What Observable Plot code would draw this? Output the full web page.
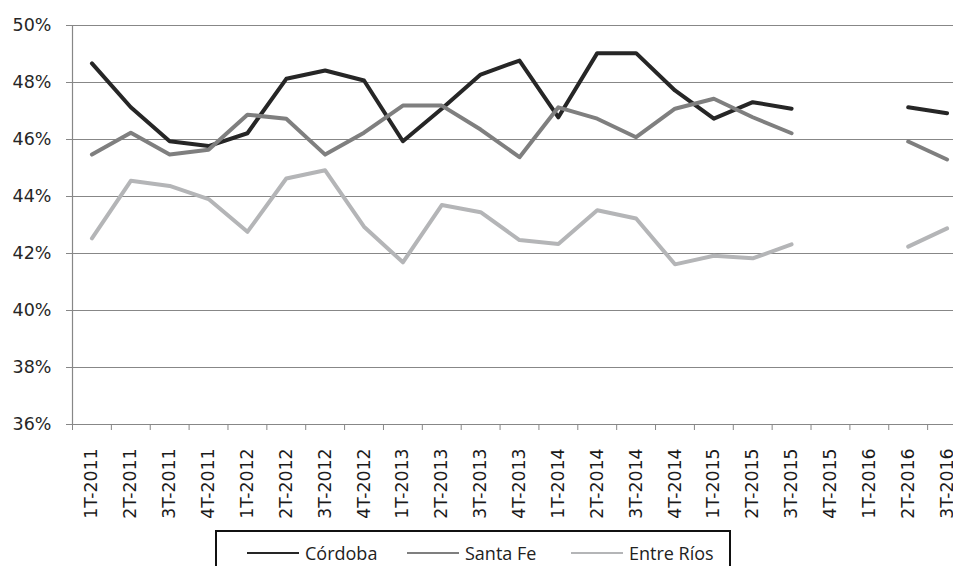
<!DOCTYPE html>
<html>
<head>
<meta charset="utf-8">
<script src="https://cdn.jsdelivr.net/npm/d3@7"></script>
<script src="https://cdn.jsdelivr.net/npm/@observablehq/plot@0.6"></script>
<style>
  html, body { margin: 0; padding: 0; background: #fff; width: 953px; height: 566px; overflow: hidden; position: relative; }
  #chart svg { display: block; }
  #legend { position: absolute; left: 215px; top: 530px; width: 516px; height: 60px; border: 2px solid #111; box-sizing: border-box; font-family: "Open Sans", sans-serif; font-size: 18px; color: #222; }
  #legend .item { position: absolute; top: 8px; display: flex; align-items: center; height: 26px; }
  #legend .sw { width: 52px; height: 2px; margin-right: 6px; }
</style>
</head>
<body>
<div id="chart"></div>
<div id="legend"></div>
<script>
const categories = ["1T-2011","2T-2011","3T-2011","4T-2011","1T-2012","2T-2012","3T-2012","4T-2012",
  "1T-2013","2T-2013","3T-2013","4T-2013","1T-2014","2T-2014","3T-2014","4T-2014",
  "1T-2015","2T-2015","3T-2015","4T-2015","1T-2016","2T-2016","3T-2016"];
const cordoba   = [48.67,47.13,45.94,45.77,46.22,48.13,48.42,48.07,45.94,47.08,48.28,48.77,46.78,49.03,49.03,47.72,46.73,47.31,47.08,null,null,47.13,46.92];
const santaFe   = [45.47,46.24,45.47,45.64,46.87,46.73,45.47,46.24,47.19,47.19,46.35,45.38,47.13,46.73,46.08,47.08,47.43,46.78,46.22,null,null,45.93,45.30];
const entreRios = [42.53,44.55,44.37,43.91,42.76,44.63,44.92,42.94,41.69,43.70,43.45,42.47,42.33,43.52,43.23,41.62,41.92,41.83,42.32,null,null,42.24,42.88];
const yTicks = [36,38,40,42,44,46,48,50];
const seriesNames = ["Córdoba","Santa Fe","Entre Ríos"];
const seriesColors = ["#262626","#7f7f7f","#b4b5b7"];
const seriesValues = [cordoba, santaFe, entreRios];

const data = seriesNames.flatMap((s, k) => seriesValues[k].map((v, i) => ({serie: s, i, v})));
const idx = categories.map((_, i) => i);
const boundaries = d3.range(-0.5, categories.length, 1);
const grid = "#878787";

const chart = Plot.plot({
  width: 990, height: 528,
  marginLeft: 72, marginRight: 24, marginTop: 25, marginBottom: 104,
  style: {fontFamily: "'DejaVu Sans', sans-serif", maxWidth: "none", background: "#fff"},
  x: {type: "linear", domain: [-0.5, categories.length - 0.5], axis: null},
  y: {domain: [36, 50], axis: null},
  color: {domain: seriesNames, range: seriesColors},
  marks: [
    Plot.gridY(yTicks, {stroke: grid, strokeOpacity: 1, strokeWidth: 1.2}),
    Plot.axisY(yTicks, {tickFormat: d => d + "%", tickSize: 6, tickPadding: 15, stroke: grid, fill: "#262626", fontSize: 17.5, label: null}),
    Plot.axisX(boundaries, {tickFormat: () => "", tickSize: 6, stroke: grid, label: null}),
    Plot.axisX(idx, {tickFormat: i => categories[i], tickSize: 0, tickRotate: -90, tickPadding: 24, fill: "#1a1a1a", fontSize: 17.3, label: null}),
    Plot.ruleX([-0.5], {stroke: grid, strokeWidth: 1.2}),
    Plot.line(data, {x: "i", y: "v", z: "serie", stroke: "serie", strokeWidth: 4, strokeLinejoin: "round", strokeLinecap: "round"})
  ]
});
document.getElementById("chart").appendChild(chart);

const legend = document.getElementById("legend");
const legendLeft = [30, 190, 354];
seriesNames.forEach((s, k) => {
  const it = document.createElement("div");
  it.className = "item";
  it.style.left = legendLeft[k] + "px";
  it.innerHTML = `<span class="sw" style="background:${seriesColors[k]}"></span><span>${s}</span>`;
  legend.appendChild(it);
});
</script>
</body>
</html>
